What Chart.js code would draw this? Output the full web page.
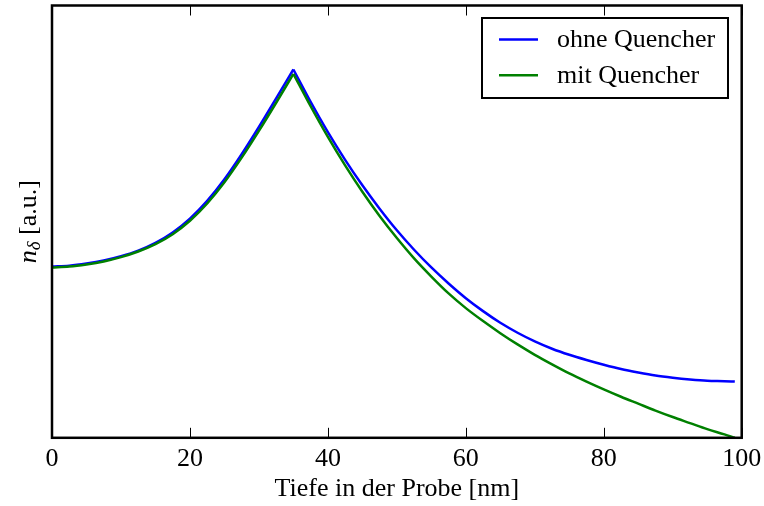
<!DOCTYPE html>
<html>
<head>
<meta charset="utf-8">
<script src="https://cdn.jsdelivr.net/npm/chart.js@4/dist/chart.umd.min.js"></script>
<style>
  html, body { margin: 0; padding: 0; background: #ffffff; }
  #wrap { width: 764px; height: 506px; }
</style>
</head>
<body>
<div id="wrap"><canvas id="c" width="764" height="506"></canvas></div>
<script>
// Depth in the sample [nm]
const depth = [0, 2.5, 5, 7.5, 10, 12.5, 15, 17.5, 20, 22.5, 25, 27.5, 30, 32.5, 35,
  37.5, 40, 42.5, 45, 47.5, 50, 52.5, 55, 57.5, 60, 62.5, 65, 67.5, 70, 72.5, 75,
  77.5, 80, 82.5, 85, 87.5, 90, 92.5, 95, 97.5, 99];

// n_delta profile without quencher [a.u.]
const ohneQuencher = [0.396, 0.398, 0.403, 0.410, 0.420, 0.433, 0.451, 0.475, 0.507, 0.548,
  0.598, 0.656, 0.719, 0.785, 0.852, 0.777, 0.707, 0.643, 0.584, 0.530, 0.480, 0.435, 0.394,
  0.357, 0.323, 0.293, 0.266, 0.243, 0.223, 0.206, 0.192, 0.180, 0.169, 0.159, 0.151, 0.144,
  0.139, 0.135, 0.132, 0.131, 0.130];

// n_delta profile with quencher [a.u.]
const mitQuencher = [0.394, 0.396, 0.401, 0.408, 0.418, 0.431, 0.448, 0.471, 0.502, 0.542,
  0.591, 0.648, 0.710, 0.775, 0.842, 0.767, 0.696, 0.630, 0.569, 0.513, 0.462, 0.415, 0.373,
  0.334, 0.300, 0.270, 0.242, 0.216, 0.192, 0.170, 0.149, 0.130, 0.112, 0.095, 0.079, 0.063,
  0.048, 0.034, 0.020, 0.008, 0.000];

// depth of the implantation maximum (cusp of both profiles)
const peakDepth = 35;

const xTicks = [0, 20, 40, 60, 80, 100];
const seriesLabels = ['ohne Quencher', 'mit Quencher'];
const seriesColors = ['#0000ff', '#008000'];
const xTitle = 'Tiefe in der Probe [nm]';

const SERIF = '"Liberation Serif", "DejaVu Serif", serif';
const FONT_SIZE = 26;

// Frame, inward ticks, boxed legend and the y-axis label with math-style subscript
const decorations = {
  id: 'decorations',
  afterDraw(chart) {
    const ctx = chart.ctx;
    const area = chart.chartArea;
    const xs = chart.scales.x;

    ctx.save();
    // inward tick marks on bottom and top spines
    ctx.strokeStyle = '#000';
    ctx.lineWidth = 1;
    xTicks.forEach(v => {
      const px = Math.round(xs.getPixelForValue(v)) + 0.5;
      ctx.beginPath();
      ctx.moveTo(px, area.bottom);
      ctx.lineTo(px, area.bottom - 10);
      ctx.moveTo(px, area.top);
      ctx.lineTo(px, area.top + 10);
      ctx.stroke();
    });

    // axes frame
    ctx.lineWidth = 2.5;
    ctx.strokeRect(area.left, area.top, area.right - area.left, area.bottom - area.top);

    // legend box in the upper right corner
    const boxX = 482, boxY = 18, boxW = 246, boxH = 80;
    ctx.fillStyle = '#fff';
    ctx.fillRect(boxX, boxY, boxW, boxH);
    ctx.lineWidth = 2;
    ctx.strokeRect(boxX, boxY, boxW, boxH);
    ctx.font = FONT_SIZE + 'px ' + SERIF;
    ctx.textBaseline = 'middle';
    ctx.textAlign = 'left';
    seriesLabels.forEach((label, i) => {
      const ly = boxY + 21.5 + i * 35.7;
      ctx.strokeStyle = seriesColors[i];
      ctx.lineWidth = 2.5;
      ctx.beginPath();
      ctx.moveTo(boxX + 17, ly);
      ctx.lineTo(boxX + 56, ly);
      ctx.stroke();
      ctx.fillStyle = '#000';
      ctx.fillText(label, boxX + 75, ly + 1);
    });

    // y-axis label: italic n with subscript delta, then [a.u.]
    const parts = [
      { t: 'n', f: 'italic ' + FONT_SIZE + 'px ' + SERIF, dy: 0 },
      { t: 'δ', f: 'italic ' + Math.round(FONT_SIZE * 0.72) + 'px ' + SERIF, dy: 4 },
      { t: ' [a.u.]', f: FONT_SIZE + 'px ' + SERIF, dy: 0 }
    ];
    let total = 0;
    parts.forEach(p => { ctx.font = p.f; p.w = ctx.measureText(p.t).width; total += p.w; });
    const cy = (area.top + area.bottom) / 2;
    ctx.translate(36, cy);
    ctx.rotate(-Math.PI / 2);
    ctx.fillStyle = '#000';
    ctx.textBaseline = 'alphabetic';
    let x0 = -total / 2;
    parts.forEach(p => {
      ctx.font = p.f;
      ctx.fillText(p.t, x0, p.dy);
      x0 += p.w;
    });
    ctx.restore();
  }
};

// Each profile is drawn as two smooth branches that meet at the cusp,
// so the maximum stays sharp while both flanks are interpolated smoothly.
const peakIdx = depth.indexOf(peakDepth);
const toPoints = (vals, from, to) =>
  depth.slice(from, to).map((d, i) => ({ x: d, y: vals[from + i] }));

const branch = (vals, s, part) => ({
  label: seriesLabels[s],
  data: part === 0 ? toPoints(vals, 0, peakIdx + 1) : toPoints(vals, peakIdx, depth.length),
  borderColor: seriesColors[s],
  borderWidth: 2.5,
  pointRadius: 0,
  cubicInterpolationMode: 'monotone',
  fill: false,
  order: s === 0 ? 1 : 0
});

new Chart(document.getElementById('c'), {
  type: 'line',
  data: {
    datasets: [
      branch(ohneQuencher, 0, 0), branch(ohneQuencher, 0, 1),
      branch(mitQuencher, 1, 0), branch(mitQuencher, 1, 1)
    ]
  },
  options: {
    responsive: false,
    animation: false,
    devicePixelRatio: 1,
    layout: { padding: { left: 52, right: 22.3, top: 5.5, bottom: 0 } },
    plugins: { legend: { display: false }, tooltip: { enabled: false } },
    scales: {
      x: {
        type: 'linear',
        min: 0, max: 100,
        afterBuildTicks: scale => { scale.ticks = xTicks.map(v => ({ value: v })); },
        afterFit: scale => {
          scale.height = 68.2;
          scale.paddingLeft = 0;
          scale.paddingRight = 0;
        },
        grid: { display: false, drawTicks: false },
        border: { display: false },
        ticks: { color: '#000', padding: 6.2, font: { family: SERIF, size: FONT_SIZE } },
        title: { display: true, text: xTitle, color: '#000', padding: { top: 0, bottom: 1.5 },
                 font: { family: SERIF, size: FONT_SIZE } }
      },
      y: {
        display: false,
        min: 0, max: 1
      }
    }
  },
  plugins: [decorations]
});
</script>
</body>
</html>
